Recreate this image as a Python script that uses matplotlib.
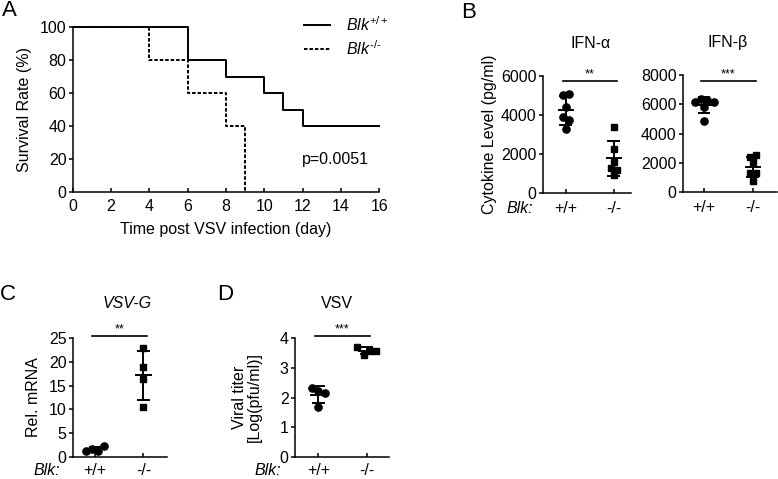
import numpy as np
import matplotlib.pyplot as plt

plt.rcParams['font.family'] = ['Liberation Sans', 'DejaVu Sans']
plt.rcParams['mathtext.fontset'] = 'custom'
plt.rcParams['mathtext.rm'] = 'Liberation Sans'
plt.rcParams['mathtext.it'] = 'Liberation Sans:italic'
plt.rcParams['axes.linewidth'] = 1.1

# --- data ---
days_wt = [0, 6, 8, 10, 11, 12, 16]
surv_wt = [100, 80, 70, 60, 50, 40, 40]
days_ko = [0, 4, 6, 8, 9]
surv_ko = [100, 80, 60, 40, 0]
p_text = 'p=0.0051'

genotypes = ['+/+', '-/-']
ifna_wt = [5000, 5100, 4420, 3880, 3740, 3260]
ifna_ko = [3390, 2230, 1600, 1290, 1170, 890]
ifnb_wt = [6170, 6340, 6290, 6170, 5830, 4850]
ifnb_ko = [2370, 2530, 2070, 1280, 1280, 770]
vsvg_wt = [1.2, 1.6, 1.3, 2.3]
vsvg_ko = [22.9, 18.9, 16.5, 10.4]
titer_wt = [2.31, 2.23, 2.14, 1.67]
titer_ko = [3.72, 3.44, 3.58, 3.58]

W, H = 778, 479
fig = plt.figure(figsize=(W / 100, H / 100), dpi=100)


def add_ax(l, r, t, b):
    return fig.add_axes([l / W, 1 - b / H, (r - l) / W, (b - t) / H])


def ftext(x, y, s, **kw):
    fig.text(x / W, 1 - y / H, s, ha=kw.pop('ha', 'center'), va=kw.pop('va', 'center'), **kw)


def swarm(vals, px_per_unit, d=0.13, tol=4.2):
    # spread points that would overlap on screen, side by side
    order = np.argsort(vals, kind='stable')
    groups = [[order[0]]]
    for a, b in zip(order[:-1], order[1:]):
        if (vals[b] - vals[a]) * px_per_unit < tol:
            groups[-1].append(b)
        else:
            groups.append([b])
    off = np.zeros(len(vals))
    for g in groups:
        g = sorted(g)
        for i, k in enumerate(g):
            off[k] = (i - (len(g) - 1) / 2) * d
    return off


def dot_panel(ax, groups, ylim, yticks, xlim, sig, sig_y, height_px, label_px=17,
              blk_gap=10, blk=True):
    markers = ['o', 's']
    for i, (vals, m) in enumerate(zip(groups, markers)):
        vals = np.asarray(vals, float)
        x = i + swarm(vals, height_px / (ylim[1] - ylim[0]))
        ax.plot(x, vals, ls='none', marker=m, color='k', ms=5.2 if m == 'o' else 4.6,
                clip_on=False, zorder=3)
        mean, sd = vals.mean(), vals.std(ddof=1)
        ax.hlines(mean, i - 0.17, i + 0.17, color='k', lw=1.4, zorder=4)
        ax.hlines([mean - sd, mean + sd], i - 0.13, i + 0.13, color='k', lw=1.4, zorder=4)
        ax.vlines(i, mean - sd, mean + sd, color='k', lw=1.4, zorder=4)
    ax.set_ylim(*ylim)
    ax.set_xlim(*xlim)
    ax.set_yticks(yticks)
    ax.set_xticks([0, 1])
    ax.set_xticklabels(genotypes)
    for s in ['top', 'right']:
        ax.spines[s].set_visible(False)
    pad = (label_px - 9) * 0.72
    ax.tick_params(axis='x', direction='in', length=3, width=1.1, pad=pad, labelsize=11.5)
    ax.tick_params(axis='y', direction='out', length=3, width=1.1, pad=1.5, labelsize=11.5)
    tr = ax.get_xaxis_transform()
    ax.plot([-0.06, 1.07], [sig_y, sig_y], color='k', lw=1.2, transform=tr, clip_on=False)
    ax.text(0.5, sig_y + 0.005, sig, transform=tr, ha='center', va='bottom', fontsize=9)
    if blk:
        # same vertical placement as the x tick labels
        trans, va, _ = ax.get_xaxis_text1_transform(pad)
        w_px = ax.get_position().width * W
        x0 = xlim[0] - blk_gap * (xlim[1] - xlim[0]) / w_px
        ax.text(x0, 0, 'Blk:', transform=trans, va=va, ha='right',
                fontsize=11.5, style='italic')


# --- A: survival ---
axA = add_ax(72.7, 379.3, 27.3, 192.3)
axA.step(days_wt, surv_wt, where='post', color='k', lw=1.4, clip_on=False,
         label=r'$\mathit{Blk}^{\mathit{+/+}}$')
axA.step(days_ko, surv_ko, where='post', color='k', lw=1.4, ls=(0, (1.8, 1.0)), clip_on=False,
         label=r'$\mathit{Blk}^{\text{-/-}}$')
axA.set_xlim(0, 16)
axA.set_ylim(0, 100)
axA.set_xticks(range(0, 17, 2))
axA.set_yticks(range(0, 101, 20))
for s in ['top', 'right']:
    axA.spines[s].set_visible(False)
axA.tick_params(axis='x', direction='in', length=3, width=1.1, pad=5, labelsize=11.5)
axA.tick_params(axis='y', direction='out', length=3, width=1.1, pad=1.5, labelsize=11.5)
axA.text(13.7, 20, p_text, ha='center', va='center', fontsize=11.5)
axA.legend(loc='upper left', bbox_to_anchor=(304 / W, 1 - 15 / H), bbox_transform=fig.transFigure,
           frameon=False, fontsize=11.5, handlelength=1.6, handletextpad=1.0,
           labelspacing=0.35, borderpad=0, borderaxespad=0)

# --- B: cytokines ---
axB1 = add_ax(542.7, 631, 76, 192.7)
dot_panel(axB1, [ifna_wt, ifna_ko], (0, 6000), [0, 2000, 4000, 6000], (-0.479, 1.36),
          '**', 0.955, 116.7)
axB2 = add_ax(682.7, 776.7, 75, 192)
dot_panel(axB2, [ifnb_wt, ifnb_ko], (0, 8000), [0, 2000, 4000, 6000, 8000], (-0.437, 1.49),
          '***', 0.95, 117, blk=False)

# --- C: VSV-G mRNA ---
axC = add_ax(72.7, 166.7, 338.3, 456.7)
dot_panel(axC, [vsvg_wt, vsvg_ko], (0, 25), [0, 5, 10, 15, 20, 25], (-0.46, 1.48),
          '**', 1.022, 118.4, label_px=15, blk_gap=13)

# --- D: viral titer ---
axD = add_ax(295, 389, 338.3, 456.7)
dot_panel(axD, [titer_wt, titer_ko], (0, 4), [0, 1, 2, 3, 4], (-0.48, 1.46),
          '***', 1.022, 118.4, label_px=15, blk_gap=14)

# labels and titles
ftext(25, 110, 'Survival Rate (%)', rotation=90, fontsize=11.5)
ftext(226, 230, 'Time post VSV infection (day)', fontsize=11.5)
ftext(489, 134, 'Cytokine Level (pg/ml)', rotation=90, fontsize=11.5)
ftext(33, 397, 'Rel. mRNA', rotation=90, fontsize=11.5)
ftext(247, 397, 'Viral titer\n[Log(pfu/ml)]', rotation=90, fontsize=11.5, linespacing=0.95)
ftext(590.7, 43, 'IFN-α', fontsize=11.5)
ftext(728, 43, 'IFN-β', fontsize=11.5)
ftext(126.7, 303, 'VSV-G', fontsize=11.5, style='italic')
ftext(336.7, 303, 'VSV', fontsize=11.5)
ftext(2, 10, 'A', fontsize=16, ha='left')
ftext(461, 13, 'B', fontsize=16, ha='left')
ftext(0, 295, 'C', fontsize=16, ha='left')
ftext(217, 295, 'D', fontsize=16, ha='left')

fig.savefig('out.png', dpi=100)
